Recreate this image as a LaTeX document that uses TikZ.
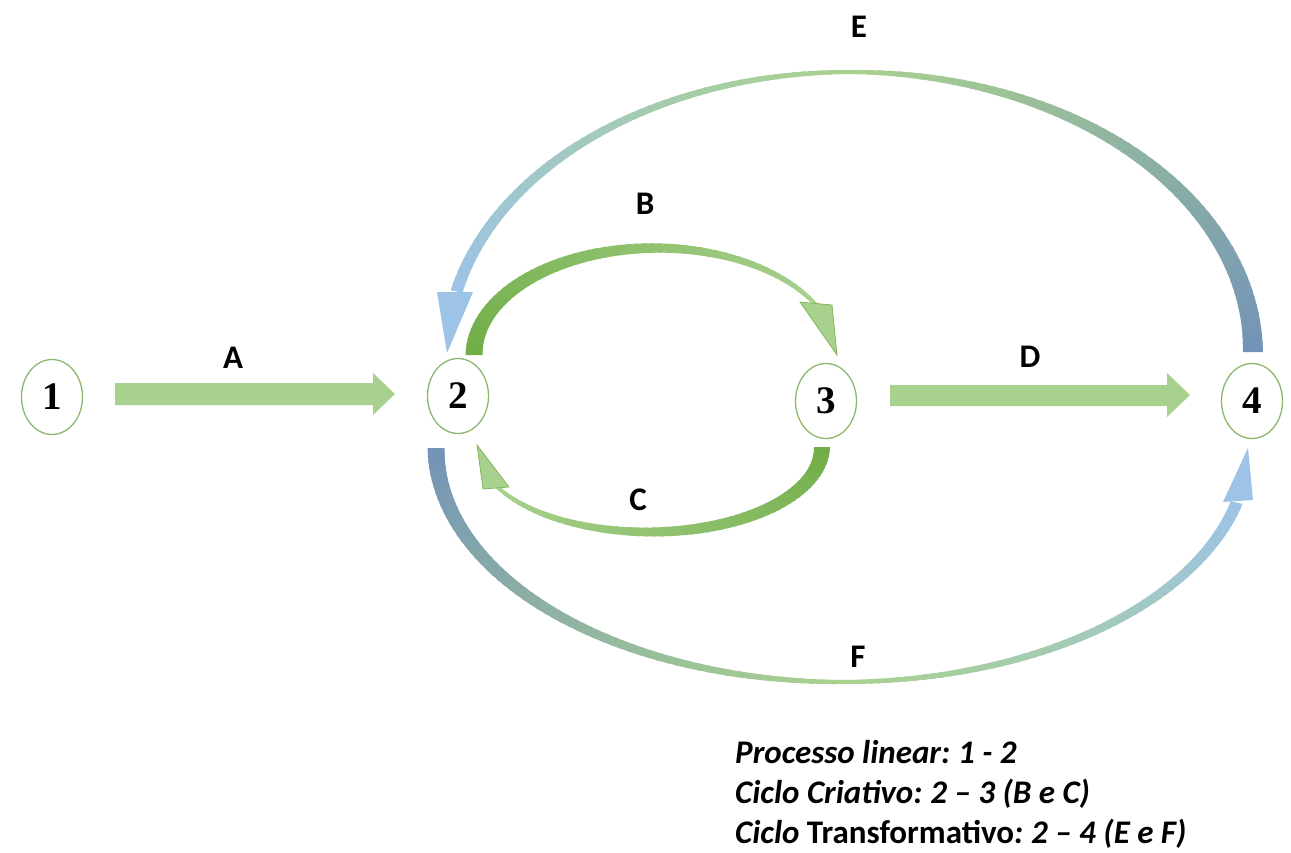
\documentclass[tikz,border=0pt]{standalone}
\usepackage{fontspec}
\setmainfont{Carlito}
\newfontfamily\numfont{Liberation Serif}
\usetikzlibrary{shapes.geometric}
\definecolor{dgreen}{HTML}{70AD47}
\definecolor{lgreen}{HTML}{A9D18E}
\definecolor{lblue}{HTML}{9DC3E6}
\definecolor{slate}{HTML}{7393B8}
\definecolor{ringc}{HTML}{8CB86C}
% tapered gradient arc on ellipse (\cx,\cy,\rx,\ry): #1 t0, #2 t1, #3 w0, #4 w1, #5 colour at t0, #6 colour at t1
\newcommand\tarc[6]{%
  \foreach \i in {0,...,59}{%
    \pgfmathsetmacro\ta{#1+(#2-#1)*\i/60}%
    \pgfmathsetmacro\tb{#1+(#2-#1)*(\i+1.4)/60}%
    \pgfmathsetmacro\wa{#3+(#4-#3)*\i/60}%
    \pgfmathsetmacro\wb{#3+(#4-#3)*(\i+1.4)/60}%
    \pgfmathtruncatemacro\pc{100-100*\i/59}%
    \fill[#5!\pc!#6]
      ({\cx+(\rx+\wa)*cos(\ta)},{\cy+(\ry+\wa)*sin(\ta)}) --
      ({\cx+(\rx+\wb)*cos(\tb)},{\cy+(\ry+\wb)*sin(\tb)}) --
      ({\cx+(\rx-\wb)*cos(\tb)},{\cy+(\ry-\wb)*sin(\tb)}) --
      ({\cx+(\rx-\wa)*cos(\ta)},{\cy+(\ry-\wa)*sin(\ta)}) -- cycle;
  }%
}
\tikzset{
  state/.style={ellipse, draw=ringc, line width=1.3pt, fill=white,
    minimum width=61pt, minimum height=75pt, inner sep=0pt,
    font=\numfont\bfseries\fontsize{39}{39}\selectfont},
  lbl/.style={anchor=base, inner sep=0pt, font=\bfseries\fontsize{33}{33}\selectfont},
  legend/.style={anchor=base west, inner sep=0pt, font=\bfseries\fontsize{33}{33}\selectfont}
}
\begin{document}
\begin{tikzpicture}[x=1pt,y=-1pt]
\useasboundingbox (0,0) rectangle (1291,852);
\fill[white] (0,0) rectangle (1291,852);

% straight arrows
\fill[lgreen] (115,383) -- (373,383) -- (373,373) -- (395,394) -- (373,415) -- (373,405) -- (115,405) -- cycle;
\fill[lgreen] (890,385) -- (1167,385) -- (1167,373) -- (1190,395) -- (1167,417) -- (1167,406) -- (890,406) -- cycle;

% B
\def\cx{655.5}\def\cy{355}\def\rx{181.5}\def\ry{107}
\tarc{180}{332}{8.5}{2}{dgreen}{lgreen}
\filldraw[fill=lgreen, draw=dgreen, line width=0.6pt] (800,302) -- (837,355) -- (832,305) -- cycle;

% C
\def\cx{649.5}\def\cy{447}\def\rx{172.5}\def\ry{85}
\tarc{0}{151}{8}{2}{dgreen}{lgreen}
\filldraw[fill=lgreen, draw=dgreen, line width=0.6pt] (483,489) -- (477,445) -- (509,487) -- cycle;

% E
\def\cx{850}\def\cy{352}\def\rx{403}\def\ry{280}
\tarc{360}{270}{10}{2}{slate}{lgreen}
\tarc{270}{193}{2}{6}{lgreen}{lblue}
\fill[lblue] (437,292) -- (447,353) -- (473,292) -- cycle;

% F
\def\cx{842}\def\cy{448}\def\rx{406}\def\ry{234}
\tarc{180}{90}{8.5}{2}{slate}{lgreen}
\tarc{90}{14}{2}{6}{lgreen}{lblue}
\fill[lblue] (1223,502) -- (1248,448) -- (1253,500) -- cycle;

% nodes
\node[state] (n1) at (52,397) {1};
\node[state] (n2) at (458,396) {2};
\node[state] (n3) at (826,401) {3};
\node[state] (n4) at (1252,401) {4};

% labels
\node[lbl] (la) at (233,368) {A};
\node[lbl] (lb) at (645,214) {B};
\node[lbl] (lc) at (638,510) {C};
\node[lbl] (ld) at (1030,367) {D};
\node[lbl] (le) at (859,37) {E};
\node[lbl] (lf) at (858,667) {F};

% legend
\node[legend] (g1) at (735,763) {\itshape Processo linear:\kern-2pt{} 1 - 2};
\node[legend] (g2) at (735,803) {\itshape Ciclo Criativo:\kern-2pt{} 2 – 3 (B e C)};
\node[legend] (g3) at (735,843) {\textit{Ciclo} Transformativo\textit{:\kern-2pt{} 2 – 4 (E e F)}};
\end{tikzpicture}
\end{document}
